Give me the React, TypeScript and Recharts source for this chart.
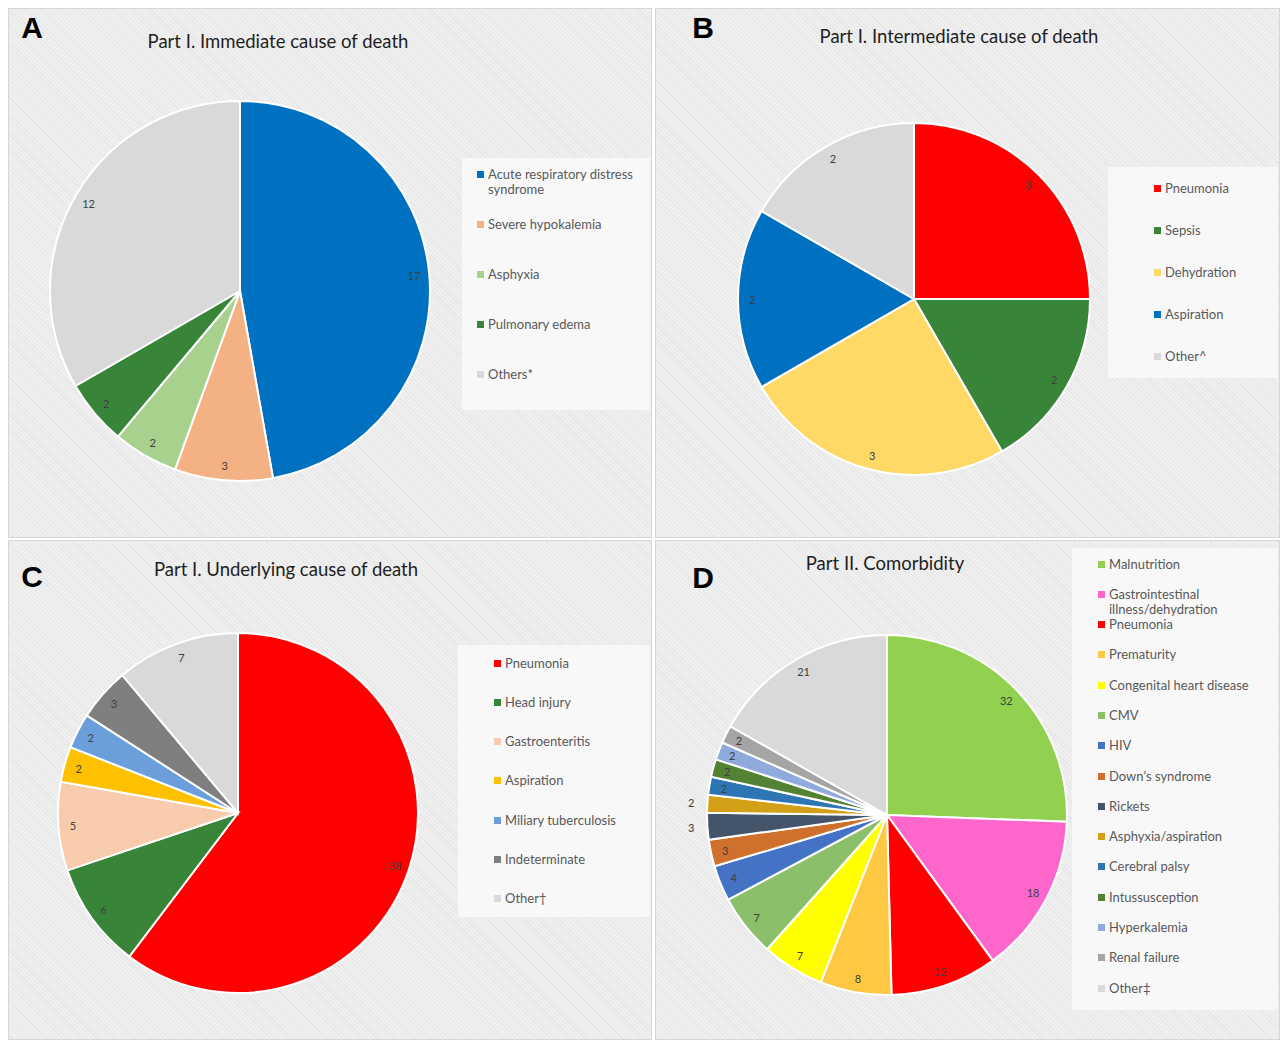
import React from 'react';
import { PieChart, Pie, Cell, Legend } from 'recharts';

// ---------- DATA ----------
const immediateCauses = ['Acute respiratory distress syndrome', 'Severe hypokalemia', 'Asphyxia', 'Pulmonary edema', 'Others*'];
const immediateCounts = [17, 3, 2, 2, 12];
const immediateColors = ['#0070C0', '#F4B183', '#A9D18E', '#38853A', '#D9D9D9'];

const intermediateCauses = ['Pneumonia', 'Sepsis', 'Dehydration', 'Aspiration', 'Other^'];
const intermediateCounts = [3, 2, 3, 2, 2];
const intermediateColors = ['#FF0000', '#38853A', '#FFD966', '#0070C0', '#D9D9D9'];

const underlyingCauses = ['Pneumonia', 'Head injury', 'Gastroenteritis', 'Aspiration', 'Miliary tuberculosis', 'Indeterminate', 'Other†'];
const underlyingCounts = [38, 6, 5, 2, 2, 3, 7];
const underlyingColors = ['#FF0000', '#38853A', '#F8CBAD', '#FFC000', '#6A9FDB', '#7F7F7F', '#D9D9D9'];

const comorbidities = [
  'Malnutrition', 'Gastrointestinal illness/dehydration', 'Pneumonia', 'Prematurity',
  'Congenital heart disease', 'CMV', 'HIV', "Down's syndrome", 'Rickets',
  'Asphyxia/aspiration', 'Cerebral palsy', 'Intussusception', 'Hyperkalemia',
  'Renal failure', 'Other‡',
];
const comorbidityCounts = [32, 18, 12, 8, 7, 7, 4, 3, 3, 2, 2, 2, 2, 2, 21];
const comorbidityColors = [
  '#92D050', '#FF66CC', '#FF0000', '#FFC843', '#FFFF00', '#8CBF6A', '#4472C4',
  '#D0702D', '#44546A', '#D4A017', '#2E75B6', '#548235', '#8FAADC', '#A5A5A5', '#D9D9D9',
];

const toRows = (names: string[], values: number[]) => names.map((name, i) => ({ name, value: values[i] }));

// ---------- LAYOUT ----------
const FONT = 'Lato, "Open Sans", sans-serif';
const RAD = Math.PI / 180;

type PanelCfg = {
  letter: string; title: string;
  left: number; top: number; w: number; h: number;
  cx: number; cy: number; r: number;
  titleX: number; titleY: number; letterX: number; letterY: number;
  names: string[]; values: number[]; colors: string[];
  legend: { left: number; top: number; w: number; h: number; markerX: number; textX: number; firstY: number; step: number; maxW: number };
  outside?: number[];
};

const panels: PanelCfg[] = [
  {
    letter: 'A', title: 'Part I. Immediate cause of death',
    left: 8, top: 8, w: 644, h: 530, cx: 232, cy: 283, r: 190,
    titleX: 270, titleY: 33, letterX: 24, letterY: 19,
    names: immediateCauses, values: immediateCounts, colors: immediateColors,
    legend: { left: 454, top: 150, w: 188, h: 252, markerX: 15, textX: 26, firstY: 16, step: 50, maxW: 160 },
  },
  {
    letter: 'B', title: 'Part I. Intermediate cause of death',
    left: 655, top: 8, w: 625, h: 530, cx: 259, cy: 291, r: 176,
    titleX: 304, titleY: 28, letterX: 48, letterY: 19,
    names: intermediateCauses, values: intermediateCounts, colors: intermediateColors,
    legend: { left: 453, top: 159, w: 170, h: 211, markerX: 46, textX: 57, firstY: 21, step: 42, maxW: 110 },
  },
  {
    letter: 'C', title: 'Part I. Underlying cause of death',
    left: 8, top: 540, w: 644, h: 500, cx: 230, cy: 273, r: 180,
    titleX: 278, titleY: 29, letterX: 24, letterY: 36,
    names: underlyingCauses, values: underlyingCounts, colors: underlyingColors,
    legend: { left: 450, top: 105, w: 192, h: 272, markerX: 36, textX: 47, firstY: 18, step: 39.33, maxW: 140 },
  },
  {
    letter: 'D', title: 'Part II. Comorbidity',
    left: 655, top: 540, w: 625, h: 500, cx: 232, cy: 275, r: 180,
    titleX: 230, titleY: 23, letterX: 48, letterY: 37,
    names: comorbidities, values: comorbidityCounts, colors: comorbidityColors,
    legend: { left: 417, top: 8, w: 206, h: 462, markerX: 26, textX: 37, firstY: 16, step: 30.29, maxW: 160 },
    outside: [8, 9],
  },
];

const hatch = 'repeating-linear-gradient(45deg, #f0f0f0 0px, #f0f0f0 2px, #e6e6e6 2px, #e6e6e6 3px)';

function makeLabel(outside: number[] = []) {
  return (props: any) => {
    const { cx, cy, midAngle, outerRadius, value, index } = props;
    const f = outside.includes(index) ? 1.09 : 0.92;
    const x = cx + outerRadius * f * Math.cos(-midAngle * RAD);
    const y = cy + outerRadius * f * Math.sin(-midAngle * RAD);
    return (
      <text x={x} y={y} textAnchor="middle" dominantBaseline="central" fontSize={11} fontFamily={FONT} fill="#404040">
        {value}
      </text>
    );
  };
}

function makeLegend(p: PanelCfg) {
  const L = p.legend;
  return () => (
    <div style={{ position: 'relative', width: L.w, height: L.h, background: '#f8f8f8', fontFamily: FONT }}>
      {p.names.map((n, i) => {
        const y = L.firstY + i * L.step;
        return (
          <div key={n}>
            <div style={{ position: 'absolute', left: L.markerX, top: y - 3.5, width: 7, height: 7, background: p.colors[i] }} />
            <div
              style={{
                position: 'absolute', left: L.textX, top: y - 7.5, width: L.maxW,
                fontSize: 13, lineHeight: '15px', color: '#595959', whiteSpace: 'normal',
              }}
            >
              {n}
            </div>
          </div>
        );
      })}
    </div>
  );
}

function Panel({ p }: { p: PanelCfg }) {
  const data = toRows(p.names, p.values);
  return (
    <div
      style={{
        position: 'absolute', left: p.left, top: p.top, width: p.w, height: p.h,
        background: hatch, border: '1px solid #d6d6d6', boxSizing: 'border-box',
      }}
    >
      <div style={{ position: 'absolute', left: -1, top: -1 }}>
        <PieChart width={p.w} height={p.h} margin={{ top: 0, right: 0, bottom: 0, left: 0 }}>
          <Pie
            data={data}
            dataKey="value"
            nameKey="name"
            cx={p.cx}
            cy={p.cy}
            outerRadius={p.r}
            startAngle={90}
            endAngle={-270}
            stroke="#ffffff"
            strokeWidth={2}
            label={makeLabel(p.outside)}
            labelLine={false}
            isAnimationActive={false}
          >
            {data.map((d, i) => (
              <Cell key={d.name} fill={p.colors[i]} />
            ))}
          </Pie>
          <Legend
            layout="vertical"
            align="right"
            verticalAlign="top"
            content={makeLegend(p)}
            wrapperStyle={{ position: 'absolute', left: p.legend.left, top: p.legend.top, width: p.legend.w, height: p.legend.h }}
          />
        </PieChart>
      </div>
      <svg width={p.w} height={p.h} style={{ position: 'absolute', left: -1, top: -1, pointerEvents: 'none' }}>
        <text x={p.letterX} y={p.letterY + 10.8} textAnchor="middle" fontFamily='"Liberation Sans", Arial, sans-serif' fontWeight="bold" fontSize={30} fill="#000">
          {p.letter}
        </text>
        <text x={p.titleX} y={p.titleY} textAnchor="middle" dominantBaseline="central" fontFamily={FONT} fontSize={18.5} fill="#1f1f1f">
          {p.title}
        </text>
      </svg>
    </div>
  );
}

export default function App() {
  return (
    <div style={{ position: 'absolute', left: 0, top: 0, width: 1282, height: 1041, background: '#ffffff', overflow: 'hidden' }}>
      {panels.map((p) => (
        <Panel key={p.letter} p={p} />
      ))}
    </div>
  );
}
